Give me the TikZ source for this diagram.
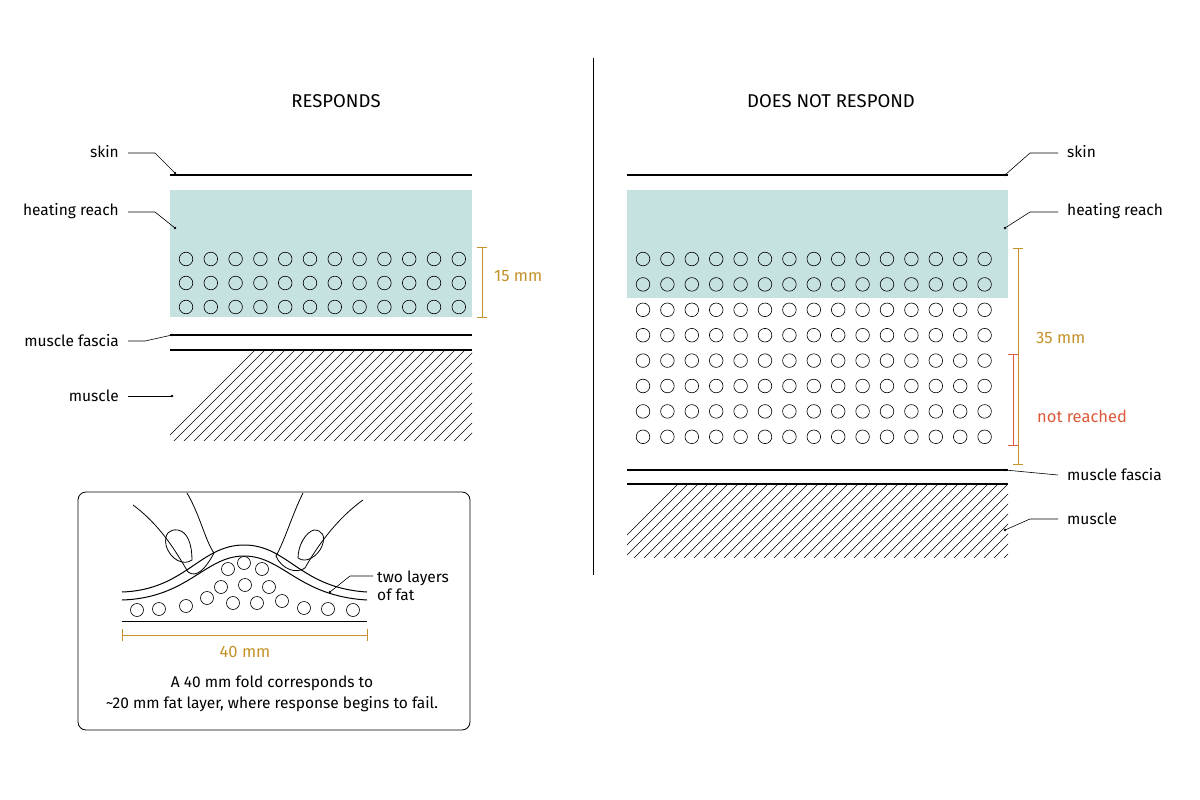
\documentclass[tikz,border=0pt]{standalone}
\usepackage{fontspec}
\setmainfont{Fira Sans}
\begin{document}
\begin{tikzpicture}[x=1pt,y=-1pt,
 lbl/.style={font=\fontsize{15.5}{18}\selectfont, inner sep=0pt},
 ttl/.style={font=\fontsize{18.5}{20}\selectfont, inner sep=0pt},
 lead/.style={line width=0.6pt},
 cir/.style={line width=0.6pt},
 lay/.style={line width=1.2pt},
 gold/.style={color=goldc},
 ]
\definecolor{teal}{RGB}{197,226,224}
\definecolor{goldc}{RGB}{196,146,40}
\definecolor{redc}{RGB}{219,90,60}
\useasboundingbox (0,0) rectangle (1200,800);
\fill[white] (0,0) rectangle (1200,800);
% titles
\node[ttl] (t1) at (336,101) {RESPONDS};
\node[ttl] (t2) at (831,101) {DOES NOT RESPOND};
\draw[line width=0.7pt] (593,58) -- (593,575);
% ---- left panel
\fill[teal] (170,190) rectangle (472,317);
\draw[lay] (170,175) -- (472,175);
\foreach \r in {259,283,307}{\foreach \i in {0,...,11}{\draw[cir] (186+24.8*\i,\r) circle (6.8);}}
\draw[lay] (170,335) -- (472,335);
\draw[lay] (170,350) -- (472,350);
\begin{scope}
\clip (170,350) rectangle (472,440);
\foreach \k in {0,...,45}{\draw[line width=0.6pt] (160+10*\k,445) -- (160+10*\k+100,345);}
\end{scope}
\draw[gold,line width=1pt] (477,247) -- (487,247) (482,247) -- (482,317) (477,317) -- (487,317);
\node[lbl,gold,anchor=west,font=\fontsize{16.5}{18}\selectfont] (l15) at (494,276) {15 mm};
\node[lbl,anchor=east] (lskin) at (119,152) {skin};
\node[lbl,anchor=east] (lheat) at (119,211) {heating reach};
\node[lbl,anchor=east] (lfas) at (119,341) {muscle fascia};
\node[lbl,anchor=east] (lmus) at (119,396) {muscle};
\coordinate (a1) at (175,173); \coordinate (a2) at (175,228); \coordinate (a3) at (172,335); \coordinate (a4) at (172,396);
\draw[lead] (lskin.east)++(9,1) -- (155,153) -- (a1); \fill (a1) circle (1.3);
\draw[lead] (lheat.east)++(9,1) -- (155,212) -- (a2); \fill (a2) circle (1.3);
\draw[lead] (lfas.east)++(9,0) -- (145,341) -- (a3); \fill (a3) circle (1.3);
\draw[lead] (lmus.east)++(9,0) -- (a4); \fill (a4) circle (1.3);
% ---- right panel
\fill[teal] (627,190) rectangle (1008,298);
\draw[lay] (627,175) -- (1008,175);
\foreach \r in {259,284.4,309.8,335.2,360.6,386,411.4,436.8}{\foreach \i in {0,...,14}{\draw[cir] (643+24.4*\i,\r) circle (6.8);}}
\draw[lay] (627,470) -- (1008,470);
\draw[lay] (627,484) -- (1008,484);
\begin{scope}
\clip (627,484) rectangle (1008,557);
\foreach \k in {0,...,50}{\draw[line width=0.6pt] (600+10*\k,562) -- (600+10*\k+85,477);}
\end{scope}
\draw[gold,line width=1pt] (1013,248) -- (1023,248) (1018,248) -- (1018,464) (1013,464) -- (1023,464);
\node[lbl,gold,anchor=west,font=\fontsize{16.5}{18}\selectfont] (l35) at (1036,338) {35 mm};
\draw[redc,line width=1pt] (1008,354) -- (1018,354) (1013,354) -- (1013,445) (1008,445) -- (1018,445);
\node[lbl,redc,anchor=west,font=\fontsize{16.5}{18}\selectfont] (lnr) at (1037,416) {not reached};
\node[lbl,anchor=west] (rskin) at (1067,152) {skin};
\node[lbl,anchor=west] (rheat) at (1067,211) {heating reach};
\node[lbl,anchor=west] (rfas) at (1067,475) {muscle fascia};
\node[lbl,anchor=west] (rmus) at (1067,519) {muscle};
\coordinate (b1) at (1005,175); \coordinate (b2) at (1005,228); \coordinate (b3) at (1005,470); \coordinate (b4) at (1005,530);
\draw[lead] (rskin.west)++(-9,1) -- (1030,153) -- (b1); \fill (b1) circle (1.3);
\draw[lead] (rheat.west)++(-9,1) -- (1030,212) -- (b2); \fill (b2) circle (1.3);
\draw[lead] (rfas.west)++(-9,0) -- (b3); \fill (b3) circle (1.3);
\draw[lead] (rmus.west)++(-9,0) -- (1030,519) -- (b4); \fill (b4) circle (1.3);
% ---- inset
\draw[line width=0.8pt, rounded corners=8pt] (78,492) rectangle (470,730);
\draw[line width=1pt] (122,592) .. controls (185,590) and (200,545) .. (244,545) .. controls (288,545) and (300,588) .. (367,592);
\draw[line width=1pt] (122,600) .. controls (188,598) and (205,556) .. (244,556) .. controls (283,556) and (298,596) .. (367,600);
\draw[line width=1pt] (122,621) -- (367,621);
\foreach \p in {(137,610),(159,609),(186,606),(207,598),(233,603),(257,603),(282,601),(304,608),(328,609),(353,610),(221,587),(245,585),(269,587),(228,569),(244,563),(262,569)}{\draw[cir] \p circle (6.5);}
% fingers
\draw[line width=0.8pt] (133,505) .. controls (160,525) and (175,550) .. (188,572);
\draw[line width=0.8pt] (187,493) .. controls (200,515) and (205,540) .. (214,553);
\draw[line width=0.8pt] (188,572) .. controls (196,578) and (205,570) .. (214,553);
\draw[line width=0.8pt] (166,545) .. controls (164,533) and (170,529) .. (178,530) .. controls (188,532) and (192,545) .. (192,560) .. controls (184,566) and (170,560) .. (166,545);
\draw[line width=0.8pt] (303,493) .. controls (292,515) and (285,540) .. (276,556);
\draw[line width=0.8pt] (363,500) .. controls (335,520) and (315,550) .. (305,568);
\draw[line width=0.8pt] (276,556) .. controls (282,570) and (297,574) .. (305,568);
\draw[line width=0.8pt] (298,558) .. controls (298,545) and (306,532) .. (314,530) .. controls (322,530) and (326,536) .. (322,546) .. controls (318,556) and (306,564) .. (298,558);
\node[lbl,anchor=west,align=left] (fat) at (377,586) {two layers\\of fat};
\coordinate (c1) at (330,592);
\draw[lead] (373,576) -- (350,576) -- (c1); \fill (c1) circle (1.3);
\draw[gold,line width=1pt] (122,629) -- (122,641) (122,635) -- (367,635) (367,629) -- (367,641);
\node[lbl,gold,font=\fontsize{16.5}{18}\selectfont] (l40) at (245,652) {40 mm};
\node[lbl,align=center] (cap) at (272,694) {A 40 mm fold corresponds to\\[3pt]\textasciitilde20 mm fat layer, where response begins to fail.};
\end{tikzpicture}
\end{document}
